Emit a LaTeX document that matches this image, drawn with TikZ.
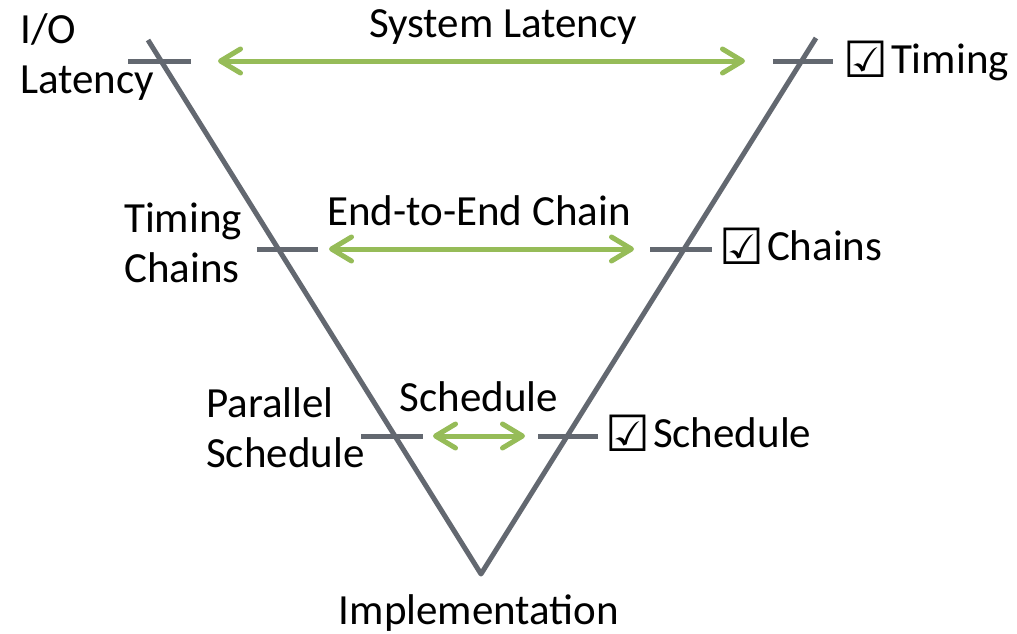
\documentclass[tikz,border=0pt]{standalone}
\usepackage{fontspec}
\setmainfont{Carlito}
\newfontfamily\symfont{DejaVu Sans}
\usetikzlibrary{arrows.meta}
\definecolor{vgray}{RGB}{99,104,112}
\definecolor{vgreen}{RGB}{150,188,88}
\newcommand{\chkbox}{\raisebox{-4pt}{\symfont\fontsize{50}{50}\selectfont ☑}}
\begin{document}
\begin{tikzpicture}[x=1pt,y=-1pt,
    every node/.style={font=\fontsize{43}{50}\selectfont,inner sep=0pt,align=left},
    vline/.style={vgray,line width=5pt,line join=round},
    tickmark/.style={vgray,line width=5pt},
    span/.style={vgreen,line width=5pt,
        {Straight Barb[round,length=20pt,width=24pt]}-{Straight Barb[round,length=20pt,width=24pt]}}]
    \useasboundingbox (0,0) rectangle (1017,633);
    % the V
    \coordinate (ltop) at (148,40);
    \coordinate (rtop) at (816,38);
    \coordinate (bot) at (481,574);
    \draw[vline] (ltop) -- (bot) -- (rtop);
    % ticks on both legs
    \draw[tickmark] (128,61) -- (191,61) (773,61) -- (833,61);
    \draw[tickmark] (257,249) -- (318,249) (650,249) -- (712,249);
    \draw[tickmark] (361,436) -- (423,436) (538,436) -- (598,436);
    % green spans
    \coordinate (sysl) at (218,61);  \coordinate (sysr) at (745,61);
    \coordinate (chnl) at (329,249); \coordinate (chnr) at (634,249);
    \coordinate (schl) at (433,436); \coordinate (schr) at (525,436);
    \draw[span] (sysl) -- (sysr);
    \draw[span] (chnl) -- (chnr);
    \draw[span] (schl) -- (schr);
    % labels left (base = last line)
    \node[anchor=base west] (iolat) at (20,93) {I/O\\Latency};
    \node[anchor=base west] (tchains) at (124,282) {Timing\\Chains};
    \node[anchor=base west] (psched) at (206,467) {Parallel\\Schedule};
    % labels on the spans
    \node[anchor=base] (syslat) at (503,37) {System Latency};
    \node[anchor=base] (e2e) at (479,225) {End-to-End Chain};
    \node[anchor=base] (sched) at (479,411) {Schedule};
    \node[anchor=base] (impl) at (479,624) {Implementation};
    % labels right
    \node[anchor=base west] (tcheck) at (843,73) {\chkbox\hspace{3pt}Timing};
    \node[anchor=base west] (ccheck) at (719,260) {\chkbox\hspace{3pt}Chains};
    \node[anchor=base west] (scheck) at (605,447) {\chkbox\hspace{3pt}Schedule};
\end{tikzpicture}
\end{document}
